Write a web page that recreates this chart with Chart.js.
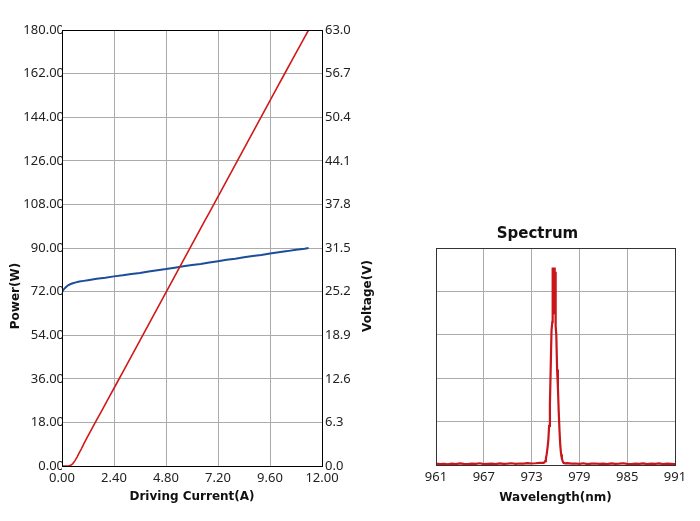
<!DOCTYPE html>
<html>
<head>
<meta charset="utf-8">
<script src="https://cdn.jsdelivr.net/npm/chart.js@4.4.0/dist/chart.umd.min.js"></script>
<style>
  body { margin: 0; background: #fff; width: 700px; height: 521px; position: relative; overflow: hidden; }
  #piv { position: absolute; left: 0; top: 0; }
  #spec { position: absolute; left: 400px; top: 220px; }
</style>
</head>
<body>
<canvas id="piv" width="400" height="521"></canvas>
<canvas id="spec" width="300" height="301"></canvas>
<script>
// P-I-V curve
var corrente = [0, 0.1, 0.2, 0.3, 0.4, 0.5, 0.6, 0.7, 0.8, 0.9, 1.0, 1.2, 1.4, 1.6, 1.8, 2.0, 2.2, 2.4, 2.6, 2.8, 3.0,
  3.2, 3.4, 3.6, 3.8, 4.0, 4.2, 4.4, 4.6, 4.8, 5.0, 5.2, 5.4, 5.6, 5.8, 6.0, 6.2, 6.4, 6.6, 6.8, 7.0,
  7.2, 7.4, 7.6, 7.8, 8.0, 8.2, 8.4, 8.6, 8.8, 9.0, 9.2, 9.4, 9.6, 9.8, 10.0, 10.2, 10.4, 10.6, 10.8, 11.0,
  11.2, 11.38];
var potencia = [0, 0, 0, 0, 0.3, 1.0, 2.2, 3.8, 5.5, 7.2, 9.0, 12.4, 15.7, 19.0, 22.2, 25.5, 28.8, 32.1, 35.4, 38.7, 42.0,
  45.3, 48.6, 51.9, 55.2, 58.5, 61.8, 65.1, 68.4, 71.7, 75.0, 78.3, 81.6, 84.9, 88.2, 91.5, 94.8, 98.1, 101.4, 104.6, 107.9,
  111.2, 114.5, 117.8, 121.1, 124.4, 127.7, 131.0, 134.3, 137.6, 140.9, 144.2, 147.5, 150.8, 154.1, 157.4, 160.7, 164.0, 167.3, 170.6, 173.8,
  177.1, 180.0];
var correnteV = [0, 0.05, 0.1, 0.2, 0.3, 0.4, 0.5, 0.6, 0.8, 1.0, 1.2, 1.4, 1.6, 2.0, 2.4, 2.8, 3.2, 3.6, 4.0, 4.4,
  4.8, 5.2, 5.6, 6.0, 6.4, 6.8, 7.2, 7.6, 8.0, 8.4, 8.8, 9.2, 9.6, 10.0, 10.4, 10.8, 11.2, 11.38];
var tensao = [25.1, 25.4, 25.6, 25.9, 26.15, 26.3, 26.4, 26.5, 26.65, 26.75, 26.85, 26.95, 27.05, 27.2, 27.4, 27.55, 27.75, 27.9, 28.1, 28.3,
  28.45, 28.65, 28.85, 29.05, 29.2, 29.4, 29.6, 29.8, 29.95, 30.15, 30.35, 30.5, 30.7, 30.9, 31.05, 31.25, 31.4, 31.5];

var xTicks = [0, 2.4, 4.8, 7.2, 9.6, 12];
var xLabels = ["0.00", "2.40", "4.80", "7.20", "9.60", "12.00"];
var potTicks = [0, 18, 36, 54, 72, 90, 108, 126, 144, 162, 180];
var potLabels = ["0.00", "18.00", "36.00", "54.00", "72.00", "90.00", "108.00", "126.00", "144.00", "162.00", "180.00"];
var tenTicks = [0, 6.3, 12.6, 18.9, 25.2, 31.5, 37.8, 44.1, 50.4, 56.7, 63];
var tenLabels = ["0.0", "6.3", "12.6", "18.9", "25.2", "31.5", "37.8", "44.1", "50.4", "56.7", "63.0"];

// Spectrum
var comprimento = [961, 961.5, 962, 962.5, 963, 963.5, 964, 964.5, 965, 965.5, 966, 966.5, 967, 967.5, 968, 968.5,
  969, 969.5, 970, 970.5, 971, 971.5, 972, 972.5, 973, 973.5, 974, 974.5,
  974.6, 974.7, 974.8, 974.9, 975.0, 975.1, 975.2, 975.3, 975.4, 975.5, 975.6, 975.63,
  975.66, 975.69, 975.72, 975.75, 975.78, 975.81, 975.84, 975.87, 975.9, 975.93, 975.96, 975.99, 976.02,
  976.05, 976.1, 976.2, 976.3, 976.4, 976.5, 976.6, 976.7, 976.8, 976.9, 977.0, 977.2,
  977.5, 978, 978.5, 979, 979.5, 980, 980.5, 981, 981.5, 982, 982.5, 983, 983.5, 984, 984.5, 985, 985.5,
  986, 986.5, 987, 987.5, 988, 988.5, 989, 989.5, 990, 990.5, 991];
var intensidade = [0.6, 0.4, 0.5, 0.3, 0.6, 0.4, 0.7, 0.5, 0.4, 0.6, 0.5, 0.8, 0.4, 0.5, 0.6, 0.4,
  0.7, 0.5, 0.6, 0.8, 0.5, 0.7, 0.6, 0.9, 0.7, 0.8, 1.0, 1.0,
  1.2, 1.8, 3.2, 5.0, 8.0, 11.5, 18.0, 28.0, 45.0, 62.0, 66.0, 80.0,
  91.0, 70.0, 91.0, 74.0, 91.0, 72.0, 90.0, 76.0, 91.0, 73.0, 89.0, 70.0, 66.0,
  64.0, 60.0, 44.0, 36.0, 25.0, 16.0, 9.0, 5.0, 3.0, 1.8, 1.0, 0.8,
  0.9, 0.6, 0.7, 0.5, 0.8, 0.4, 0.6, 0.7, 0.5, 0.6, 0.4, 0.7, 0.5, 0.6, 0.8, 0.5, 0.4,
  0.6, 0.5, 0.7, 0.4, 0.6, 0.5, 0.7, 0.4, 0.6, 0.5, 0.4];
var specTicks = [961, 967, 973, 979, 985, 991];
var specLabels = ["961", "967", "973", "979", "985", "991"];
var specYTicks = [0, 20, 40, 60, 80, 100];

function pares(xs, ys) {
  return xs.map(function (x, i) { return { x: x, y: ys[i] }; });
}
function fixarTicks(lista) {
  return function (scale) { scale.ticks = lista.map(function (v) { return { value: v }; }); };
}

var fonteTick = { family: "'Noto Sans'", size: 13 };
var fonteTitulo = { family: "'DejaVu Sans'", size: 12, weight: "bold" };
var corGrade = "#ababab";

var moldura = {
  id: "moldura",
  afterDraw: function (chart, args, opts) {
    var a = chart.chartArea, ctx = chart.ctx;
    ctx.save();
    ctx.strokeStyle = opts.cor || "#000";
    ctx.lineWidth = 1;
    ctx.strokeRect(Math.round(a.left) + 0.5, Math.round(a.top) + 0.5, Math.round(a.right - a.left), Math.round(a.bottom - a.top));
    if (opts.textos) {
      ctx.fillStyle = "#111";
      ctx.font = "bold 12px 'DejaVu Sans'";
      ctx.textAlign = "center";
      ctx.textBaseline = "middle";
      opts.textos.forEach(function (t) {
        ctx.save();
        ctx.translate(t.x, t.y);
        ctx.rotate(-Math.PI / 2);
        ctx.fillText(t.texto, 0, 0);
        ctx.restore();
      });
    }
    ctx.restore();
  }
};

new Chart(document.getElementById("piv"), {
  type: "line",
  data: {
    datasets: [
      {
        label: "Power",
        data: pares(corrente, potencia),
        yAxisID: "y",
        borderColor: "#d01a1a",
        borderWidth: 1.6,
        pointRadius: 0,
        tension: 0
      },
      {
        label: "Voltage",
        data: pares(correnteV, tensao),
        yAxisID: "y1",
        borderColor: "#1c4d9a",
        borderWidth: 2,
        pointRadius: 0,
        tension: 0
      }
    ]
  },
  plugins: [moldura],
  options: {
    responsive: false,
    animation: false,
    devicePixelRatio: 1,
    layout: { padding: { top: 30, left: 0, right: 0, bottom: 0 } },
    plugins: {
      legend: { display: false },
      tooltip: { enabled: false },
      moldura: {
        cor: "#000",
        textos: [
          { texto: "Power(W)", x: 16, y: 296 },
          { texto: "Voltage(V)", x: 368, y: 296 }
        ]
      }
    },
    scales: {
      x: {
        type: "linear",
        min: 0,
        max: 12,
        afterBuildTicks: fixarTicks(xTicks),
        afterFit: function (s) { s.height = 55; },
        grid: { color: corGrade, drawTicks: false },
        border: { display: false },
        ticks: {
          padding: 4,
          color: "#222",
          font: fonteTick,
          maxRotation: 0,
          callback: function (v, i) { return xLabels[i]; }
        },
        title: {
          display: true,
          text: "Driving Current(A)",
          color: "#111",
          font: fonteTitulo,
          padding: { top: 0, bottom: 17 }
        }
      },
      y: {
        position: "left",
        min: 0,
        max: 180,
        afterBuildTicks: fixarTicks(potTicks),
        afterFit: function (s) { s.width = 62; },
        grid: { color: corGrade, drawTicks: false },
        border: { display: false },
        ticks: {
          padding: -2,
          color: "#222",
          font: fonteTick,
          callback: function (v, i) { return potLabels[i]; }
        }
      },
      y1: {
        position: "right",
        min: 0,
        max: 63,
        afterBuildTicks: fixarTicks(tenTicks),
        afterFit: function (s) { s.width = 78; },
        grid: { display: false, drawTicks: false },
        border: { display: false },
        ticks: {
          padding: 3,
          color: "#222",
          font: fonteTick,
          callback: function (v, i) { return tenLabels[i]; }
        }
      }
    }
  }
});

new Chart(document.getElementById("spec"), {
  type: "line",
  data: {
    datasets: [{
      label: "Spectrum",
      data: pares(comprimento, intensidade),
      borderColor: "#c8161b",
      borderWidth: 2.2,
      pointRadius: 0,
      tension: 0
    }]
  },
  plugins: [moldura],
  options: {
    responsive: false,
    animation: false,
    devicePixelRatio: 1,
    layout: { padding: { top: 0, left: 0, right: 25, bottom: 0 } },
    plugins: {
      legend: { display: false },
      tooltip: { enabled: false },
      title: {
        display: true,
        text: "Spectrum",
        color: "#111",
        font: { family: "'DejaVu Sans'", size: 15, weight: "bold" },
        padding: { top: 5, bottom: 5 }
      },
      moldura: { cor: "#333" }
    },
    scales: {
      x: {
        type: "linear",
        min: 961,
        max: 991,
        afterBuildTicks: fixarTicks(specTicks),
        afterFit: function (s) { s.height = 56; },
        grid: { color: corGrade, drawTicks: false },
        border: { display: false },
        ticks: {
          padding: 4,
          color: "#222",
          font: fonteTick,
          maxRotation: 0,
          callback: function (v, i) { return specLabels[i]; }
        },
        title: {
          display: true,
          text: "Wavelength(nm)",
          color: "#111",
          font: fonteTitulo,
          padding: { top: 0, bottom: 16 }
        }
      },
      y: {
        min: 0,
        max: 100,
        afterBuildTicks: fixarTicks(specYTicks),
        afterFit: function (s) { s.width = 36; },
        grid: { color: corGrade, drawTicks: false },
        border: { display: false },
        ticks: { display: false }
      }
    }
  }
});
</script>
</body>
</html>
